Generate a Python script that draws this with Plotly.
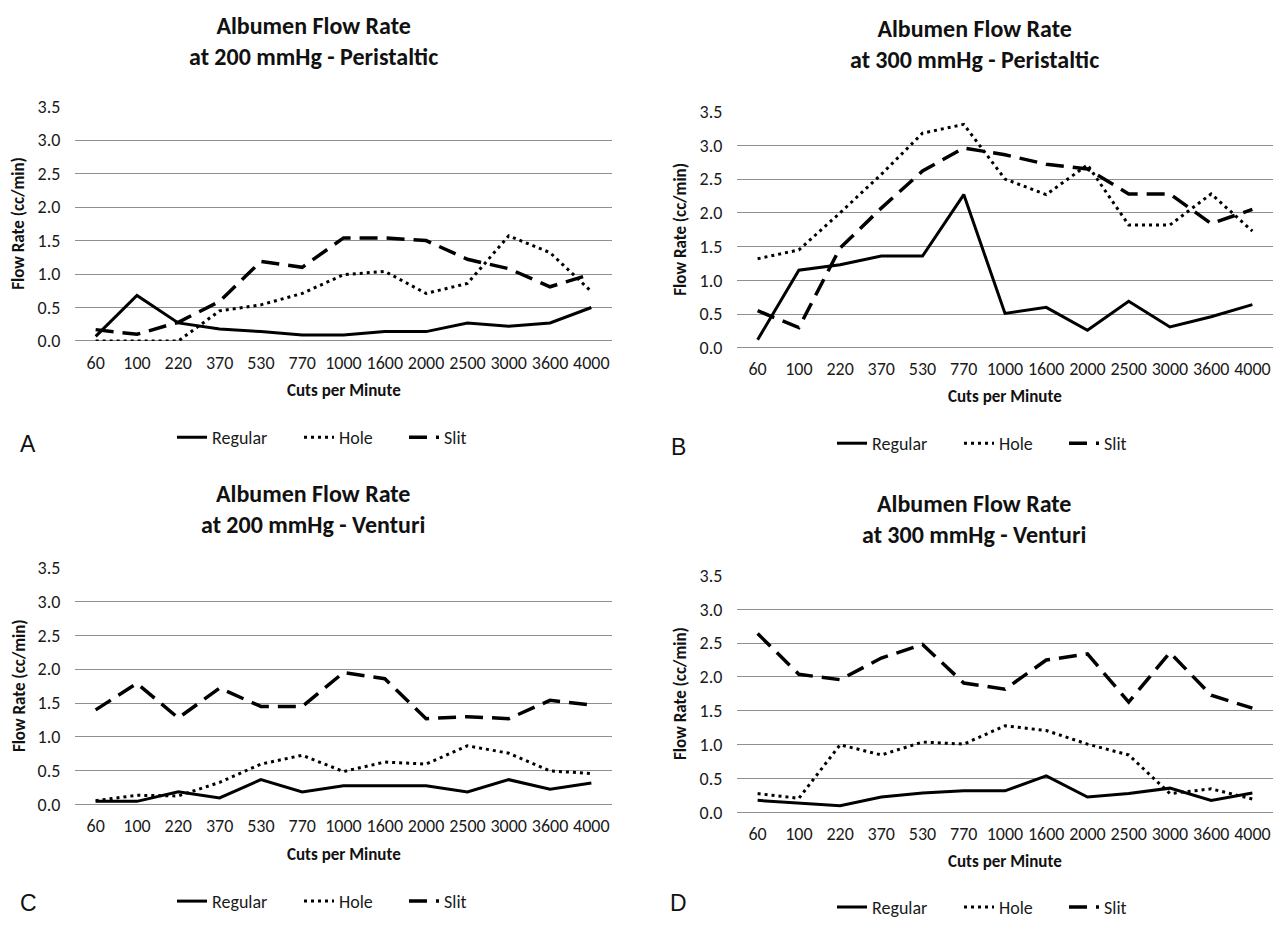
import plotly.graph_objects as go

# Cutting rates (cuts per minute) shared by all four panels
cuts = ["60", "100", "220", "370", "530", "770", "1000", "1600", "2000", "2500", "3000", "3600", "4000"]

# A: 200 mmHg, peristaltic pump
a_regular = [0.07, 0.68, 0.27, 0.18, 0.14, 0.09, 0.09, 0.14, 0.14, 0.27, 0.22, 0.27, 0.50]
a_hole = [0.00, 0.00, 0.00, 0.45, 0.54, 0.71, 0.99, 1.04, 0.71, 0.86, 1.57, 1.32, 0.74]
a_slit = [0.17, 0.10, 0.28, 0.59, 1.19, 1.10, 1.54, 1.54, 1.50, 1.22, 1.08, 0.81, 1.00]

# B: 300 mmHg, peristaltic pump
b_regular = [0.12, 1.15, 1.23, 1.36, 1.36, 2.27, 0.51, 0.60, 0.26, 0.69, 0.31, 0.46, 0.64]
b_hole = [1.32, 1.45, 2.00, 2.57, 3.18, 3.31, 2.50, 2.27, 2.71, 1.82, 1.82, 2.28, 1.73]
b_slit = [0.55, 0.30, 1.48, 2.07, 2.62, 2.96, 2.86, 2.72, 2.65, 2.28, 2.28, 1.84, 2.05]

# C: 200 mmHg, venturi pump
c_regular = [0.05, 0.05, 0.19, 0.10, 0.37, 0.19, 0.28, 0.28, 0.28, 0.19, 0.37, 0.23, 0.32]
c_hole = [0.06, 0.14, 0.13, 0.33, 0.60, 0.73, 0.49, 0.63, 0.60, 0.87, 0.76, 0.50, 0.46]
c_slit = [1.40, 1.79, 1.28, 1.72, 1.45, 1.45, 1.95, 1.86, 1.27, 1.30, 1.27, 1.54, 1.47]

# D: 300 mmHg, venturi pump
d_regular = [0.18, 0.14, 0.10, 0.23, 0.29, 0.32, 0.32, 0.54, 0.23, 0.28, 0.36, 0.18, 0.29]
d_hole = [0.28, 0.21, 1.00, 0.85, 1.04, 1.01, 1.28, 1.21, 1.01, 0.85, 0.28, 0.35, 0.20]
d_slit = [2.64, 2.04, 1.96, 2.28, 2.48, 1.91, 1.82, 2.25, 2.34, 1.63, 2.36, 1.73, 1.54]

y_ticks = [0.0, 0.5, 1.0, 1.5, 2.0, 2.5, 3.0, 3.5]

W, H = 1288, 929
FONT = "Carlito, Calibri, Lato, sans-serif"
GRID = "#8f8f8f"
TEXT = "#1a1a1a"

panels = [
    dict(letter="A", title="Albumen Flow Rate<br>at 200 mmHg - Peristaltic",
         series=(a_regular, a_hole, a_slit),
         px_x=(75, 612), px_y=(98, 338), title_xy=(313, 31), xlab_y=389, leg_y=437, leg_x=172,
         letter_xy=(28, 444)),
    dict(letter="B", title="Albumen Flow Rate<br>at 300 mmHg - Peristaltic",
         series=(b_regular, b_hole, b_slit),
         px_x=(737, 1273), px_y=(103, 345), title_xy=(974, 34), xlab_y=395, leg_y=443, leg_x=832,
         letter_xy=(678, 447)),
    dict(letter="C", title="Albumen Flow Rate<br>at 200 mmHg - Venturi",
         series=(c_regular, c_hole, c_slit),
         px_x=(75, 612), px_y=(570, 813), title_xy=(313, 510), xlab_y=864, leg_y=912, leg_x=172,
         letter_xy=(28, 914)),
    dict(letter="D", title="Albumen Flow Rate<br>at 300 mmHg - Venturi",
         series=(d_regular, d_hole, d_slit),
         px_x=(737, 1273), px_y=(578, 821), title_xy=(974, 520), xlab_y=871, leg_y=918, leg_x=832,
         letter_xy=(678, 914)),
]

# name, line style, width reserved for the legend entry text
styles = [
    ("Regular", dict(color="black", width=3, dash="solid"), 82),
    ("Hole", dict(color="black", width=3, dash="3px,4px"), 60),
    ("Slit", dict(color="black", width=3.5, dash="18px,9px"), 30),
]


def fx(px):
    return px / W


def fy(py):
    return 1 - py / H


fig = go.Figure()
annotations = []
layout = {}

for i, p in enumerate(panels, start=1):
    sfx = "" if i == 1 else str(i)
    leg = "legend" if i == 1 else f"legend{i}"
    x0, x1 = p["px_x"]
    y0, y1 = p["px_y"]

    for (name, line, lw), vals in zip(styles, p["series"]):
        fig.add_trace(go.Scatter(
            x=cuts, y=vals, name=name, mode="lines", line=line, legendwidth=lw,
            xaxis=f"x{sfx}", yaxis=f"y{sfx}", legend=leg, hoverinfo="skip",
        ))

    layout[f"xaxis{sfx}"] = dict(
        domain=[fx(x0), fx(x1)], anchor=f"y{sfx}", type="category",
        categoryorder="array", categoryarray=cuts, range=[-0.5, 12.5],
        showgrid=False, zeroline=False, showline=False, ticks="outside", ticklen=5,
        tickcolor="rgba(0,0,0,0)", tickfont=dict(family=FONT, size=18, color=TEXT),
        fixedrange=True,
    )
    layout[f"yaxis{sfx}"] = dict(
        domain=[fy(y1), fy(y0)], anchor=f"x{sfx}", range=[0, 3.5],
        tickvals=y_ticks, ticktext=[f"{v:.1f}" for v in y_ticks],
        showgrid=True, gridcolor=GRID, gridwidth=1,
        zeroline=True, zerolinecolor=GRID, zerolinewidth=1, showline=False,
        ticks="outside", ticklen=10, tickcolor="rgba(0,0,0,0)",
        tickfont=dict(family=FONT, size=18, color=TEXT), fixedrange=True,
    )
    layout[leg] = dict(
        orientation="h", x=fx(p["leg_x"]), y=fy(p["leg_y"]), xanchor="left", yanchor="middle",
        font=dict(family=FONT, size=18, color=TEXT), bgcolor="rgba(0,0,0,0)",
        itemwidth=30, tracegroupgap=0,
    )

    annotations += [
        dict(text=f"<b>{p['title']}</b>", x=fx(p["title_xy"][0]), y=fy(p["title_xy"][1]),
             xref="paper", yref="paper", showarrow=False, xanchor="center", yanchor="middle",
             font=dict(family=FONT, size=24, color="#111")),
        dict(text="<b>Cuts per Minute</b>", x=fx((x0 + x1) / 2), y=fy(p["xlab_y"]), xref="paper",
             yref="paper", showarrow=False, xanchor="center", yanchor="middle",
             font=dict(family=FONT, size=17, color="#111")),
        dict(text="<b>Flow Rate (cc/min)</b>", x=fx(x0 - 56), y=fy((y0 + y1) / 2), xref="paper",
             yref="paper", showarrow=False, textangle=-90, xanchor="center", yanchor="middle",
             font=dict(family=FONT, size=17, color="#111")),
        dict(text=p["letter"], x=fx(p["letter_xy"][0]), y=fy(p["letter_xy"][1]), xref="paper",
             yref="paper", showarrow=False, xanchor="center", yanchor="middle",
             font=dict(family="Liberation Sans, Arial, sans-serif", size=23, color="#111")),
    ]

fig.update_layout(
    width=W, height=H, margin=dict(l=0, r=0, t=0, b=0),
    paper_bgcolor="white", plot_bgcolor="white",
    annotations=annotations, showlegend=True, **layout,
)

fig.write_html("out.html")
